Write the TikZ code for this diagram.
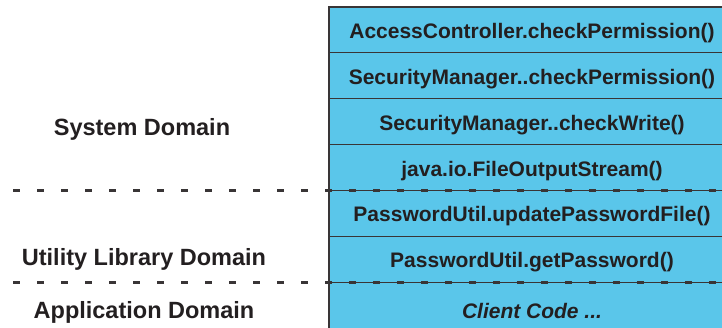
\documentclass[tikz,border=0pt]{standalone}
\usepackage{fontspec}
\setmainfont{Liberation Sans}
\usetikzlibrary{positioning}

\definecolor{layerblue}{RGB}{90,198,234}
\definecolor{inkgray}{RGB}{35,31,32}

\def\rowheight{45.9pt}

\begin{document}
\begin{tikzpicture}[x=1pt,y=-1pt,draw=inkgray!90,text=inkgray]
    \tikzstyle{layer}=[rectangle,draw,fill=layerblue,line width=1.1pt,outer sep=0pt,minimum width=406pt,minimum height=\rowheight,inner sep=0pt,text height=16.8pt,text depth=0pt,font=\fontsize{21}{24}\selectfont\bfseries]
    \tikzstyle{domain label}=[text height=18.8pt,text depth=0pt,font=\fontsize{23.5}{28}\selectfont\bfseries]
    \tikzstyle{boundary}=[line width=3pt,dash pattern=on 7pt off 17pt]

    \useasboundingbox (0,0) rectangle (722,328);

    % Draw the call stack, top to bottom.
    \node[layer] (L-1) at (532,29.95) {AccessController.checkPermission()};
    \foreach \name / \prev / \txt in {2/1/{SecurityManager..checkPermission()},
                                      3/2/{SecurityManager..checkWrite()},
                                      4/3/{java.io.FileOutputStream()},
                                      5/4/{PasswordUtil.updatePasswordFile()},
                                      6/5/{PasswordUtil.getPassword()}}
        \node[layer,below=0pt of L-\prev] (L-\name) {\txt};
    \node[layer,below=0pt of L-6,minimum height=56pt] (L-7) {\itshape Client Code ...};

    % Domain boundaries.
    \coordinate (b1) at (13,190.6);
    \coordinate (b2) at (13,282.4);
    \draw[boundary] (b1) -- (b1 -| L-4.east);
    \draw[boundary] (b2) -- (b2 -| L-6.east);

    % Annotate the domains.
    \node[domain label] (sys) at (142,126) {System Domain};
    \node[domain label] (util) at (144,256.5) {Utility Library Domain};
    \node[domain label] (app) at (144,309) {Application Domain};
\end{tikzpicture}
\end{document}
